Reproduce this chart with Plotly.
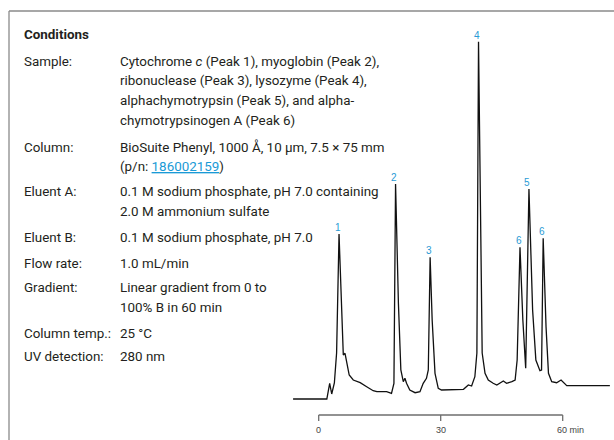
import plotly.graph_objects as go

# ---------------- data ----------------
# chromatogram: retention time (min) and detector signal (arbitrary units)
time_min = [-6.3, 2.0, 2.7, 3.2, 3.85, 4.4, 5.0, 5.65, 6.05, 6.47, 6.9, 7.5, 8.5, 10.2,
            11.8, 13.4, 14.3, 16.7, 17.9, 18.5, 18.9, 19.6, 20.2, 20.8, 21.2, 21.6,
            22.4, 23.7, 24.9, 25.7, 26.5, 26.95, 27.4, 27.9, 28.6, 29.4, 30.2, 33.5,
            35.6, 36.8, 37.6, 38.4, 38.9, 39.3, 40.2, 40.9, 41.7, 42.9, 43.8, 45.4,
            46.2, 47.5, 48.3, 48.8, 49.5, 50.2, 50.9, 51.7, 52.6, 53.4, 54.4, 54.8,
            55.2, 55.9, 56.5, 57.3, 58.5, 59.6, 61.0, 71.6]
signal = [0, 0, 15.7, 5, 16, 46, 165, 79, 44, 45.7, 35.7, 24, 19, 16.3,
          12.3, 8.3, 7.3, 7.3, 5.7, 15.7, 215, 95.7, 29, 17.3, 20.7, 15.7,
          9, 6.3, 7.3, 15.7, 20.7, 29, 141.7, 79, 25.7, 10.7, 9, 9,
          9.7, 14, 13, 22.3, 46, 357.3, 46, 25.7, 19, 15.7, 14, 18,
          15.7, 17.3, 19, 39, 151.7, 79, 30.7, 210, 89, 39, 28.3, 29,
          160.7, 72.3, 25.7, 17.3, 16.3, 19, 13.3, 13.3]

peak_labels = ["1", "2", "3", "4", "6", "5", "6"]
peak_times = [5.0, 18.9, 27.4, 39.3, 49.5, 51.7, 55.2]

axis_ticks = [0, 30, 60]
axis_tick_text = ["0", "30", "60 min"]

conditions_title = "Conditions"
condition_labels = ["Sample:", "Column:", "Eluent A:", "Eluent B:", "Flow rate:",
                    "Gradient:", "Column temp.:", "UV detection:"]
condition_values = [
    ["Cytochrome <i>c</i> (Peak 1), myoglobin (Peak 2),",
     "ribonuclease (Peak 3), lysozyme (Peak 4),",
     "alphachymotrypsin (Peak 5), and alpha-",
     "chymotrypsinogen A (Peak 6)"],
    ["BioSuite Phenyl, 1000 Å, 10 µm, 7.5 × 75 mm",
     "(p/n: <span style='color:#1a9ad6'><u>186002159</u></span>)"],
    ["0.1 M sodium phosphate, pH 7.0 containing",
     "2.0 M ammonium sulfate"],
    ["0.1 M sodium phosphate, pH 7.0"],
    ["1.0 mL/min"],
    ["Linear gradient from 0 to", "100% B in 60 min"],
    ["25 °C"],
    ["280 nm"],
]

# ---------------- layout constants ----------------
W, H = 614, 440
PX0, PX60 = 318.7, 562.7          # pixel x of 0 and 60 min
PPM = (PX60 - PX0) / 60.0
X_RANGE = [-PX0 / PPM, (W - PX0) / PPM]
BASE_PX = 399.0                    # pixel y of zero signal
Y_RANGE = [BASE_PX - H, BASE_PX]

def py(pix):  # pixel y -> signal units
    return BASE_PX - pix

TEXT_FONT = "Roboto, Liberation Sans, sans-serif"
TEXT_SIZE = 13.4
TEXT_COLOR = "#231f20"
BLUE = "#2a9bd5"
PAD = 2  # annotation inner padding in px

fig = go.Figure()
fig.add_trace(go.Scatter(x=time_min, y=signal, mode="lines",
                         line=dict(color="#111111", width=1.3),
                         hoverinfo="skip", showlegend=False))

shapes = []
annotations = []

# frame (top and left edges)
shapes.append(dict(type="line", xref="paper", yref="paper", x0=9 / W, x1=1.0,
                   y0=1 - 11 / H, y1=1 - 11 / H, line=dict(color="#8a8a8a", width=1.3)))
shapes.append(dict(type="line", xref="paper", yref="paper", x0=9 / W, x1=9 / W,
                   y0=0, y1=1 - 11 / H, line=dict(color="#8a8a8a", width=1.3)))

# time axis
AX_Y = py(415)
shapes.append(dict(type="line", xref="x", yref="y", x0=axis_ticks[0], x1=axis_ticks[-1],
                   y0=AX_Y, y1=AX_Y, line=dict(color="#6e6e6e", width=1.3)))
for t, lab in zip(axis_ticks, axis_tick_text):
    shapes.append(dict(type="line", xref="x", yref="y", x0=t, x1=t,
                       y0=AX_Y, y1=AX_Y - 6, line=dict(color="#6e6e6e", width=1.3)))
    if lab.endswith("min"):
        annotations.append(dict(x=t, y=py(430), xref="x", yref="y", text=lab,
                                showarrow=False, xanchor="left", yanchor="middle",
                                xshift=-8, font=dict(family="Liberation Sans, Arial", size=9, color="#444")))
    else:
        annotations.append(dict(x=t, y=py(430), xref="x", yref="y", text=lab,
                                showarrow=False, xanchor="center", yanchor="middle",
                                font=dict(family="Liberation Sans, Arial", size=9, color="#444")))

# peak labels
for lab, t in zip(peak_labels, peak_times):
    s = signal[time_min.index(t)]
    annotations.append(dict(x=t, y=s, xref="x", yref="y", text=lab, showarrow=False,
                            xanchor="center", yanchor="bottom", xshift=-1.5, yshift=-1,
                            font=dict(family="Liberation Sans, Arial", size=10, color=BLUE)))

# conditions panel
annotations.append(dict(x=(24 - PAD) / W, y=1 - 34 / H, xref="paper", yref="paper",
                        text="<b>" + conditions_title + "</b>", showarrow=False,
                        xanchor="left", yanchor="middle",
                        font=dict(family=TEXT_FONT, size=TEXT_SIZE, color=TEXT_COLOR)))
row_y = [61, 147, 192, 237.3, 263, 287.3, 333.3, 356]
LINE_STEP = 19.9
for lab, vals, y0 in zip(condition_labels, condition_values, row_y):
    annotations.append(dict(x=(24 - PAD) / W, y=1 - y0 / H, xref="paper", yref="paper", text=lab,
                            showarrow=False, xanchor="left", yanchor="middle",
                            font=dict(family=TEXT_FONT, size=TEXT_SIZE, color=TEXT_COLOR)))
    for i, v in enumerate(vals):
        yy = y0 + i * LINE_STEP
        annotations.append(dict(x=(119.5 - PAD) / W, y=1 - yy / H, xref="paper", yref="paper", text=v,
                                showarrow=False, xanchor="left", yanchor="middle",
                                font=dict(family=TEXT_FONT, size=TEXT_SIZE, color=TEXT_COLOR)))

fig.update_layout(
    width=W, height=H, margin=dict(l=0, r=0, t=0, b=0),
    paper_bgcolor="white", plot_bgcolor="white",
    xaxis=dict(range=X_RANGE, visible=False, fixedrange=True),
    yaxis=dict(range=Y_RANGE, visible=False, fixedrange=True),
    shapes=shapes, annotations=annotations, showlegend=False,
)

fig.write_html("out.html", config={"displayModeBar": False},
               post_script="document.body.style.margin='0';document.body.style.padding='0';"
                           "document.documentElement.style.overflow='hidden';")
